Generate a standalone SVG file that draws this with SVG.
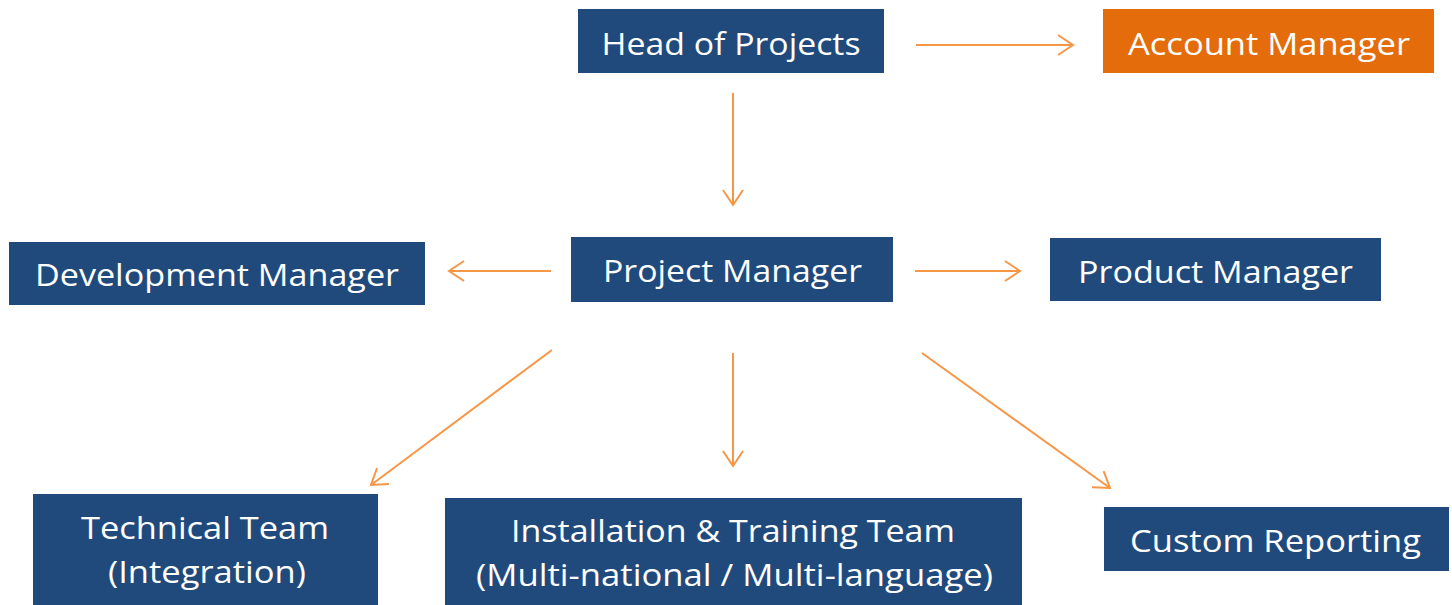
<svg xmlns="http://www.w3.org/2000/svg" width="1452" height="605" viewBox="0 0 1452 605">
  <style>
    .box { fill: #214A7C; }
    .box.accent { fill: #E46C0A; }
    .label { font-family: "Open Sans", "Liberation Sans", sans-serif; font-size: 31.5px; font-weight: 500; fill: #FFFFFF; text-anchor: middle; }
    .edge { stroke: #F79646; stroke-width: 2; fill: none; marker-end: url(#open-arrow); }
  </style>
  <defs>
    <marker id="open-arrow" viewBox="0 0 18 22" refX="16" refY="11" markerWidth="18" markerHeight="22" markerUnits="userSpaceOnUse" orient="auto">
      <path d="M1,1 L16,11 L1,21" fill="none" stroke="#F79646" stroke-width="2"/>
    </marker>
  </defs>

  <rect width="1452" height="605" fill="#FFFFFF"/>

  <g id="connectors">
    <line class="edge" x1="916" y1="45" x2="1073" y2="45"/>
    <line class="edge" x1="733" y1="93" x2="733" y2="205"/>
    <line class="edge" x1="551" y1="271" x2="449" y2="271"/>
    <line class="edge" x1="915" y1="271" x2="1020" y2="271"/>
    <line class="edge" x1="552" y1="350" x2="371" y2="485"/>
    <line class="edge" x1="733" y1="353" x2="733" y2="466"/>
    <line class="edge" x1="922" y1="353" x2="1110" y2="488"/>
  </g>

  <g id="head-of-projects">
    <rect class="box" x="578" y="9" width="306" height="64"/>
    <text class="label" x="731" y="55" textLength="259" lengthAdjust="spacingAndGlyphs">Head of Projects</text>
  </g>

  <g id="account-manager">
    <rect class="box accent" x="1103" y="9" width="331" height="64"/>
    <text class="label" x="1269" y="55" textLength="282" lengthAdjust="spacingAndGlyphs">Account Manager</text>
  </g>

  <g id="project-manager">
    <rect class="box" x="571" y="237" width="322" height="65"/>
    <text class="label" x="732.5" y="282" textLength="259" lengthAdjust="spacingAndGlyphs">Project Manager</text>
  </g>

  <g id="development-manager">
    <rect class="box" x="9" y="242" width="416" height="63"/>
    <text class="label" x="217" y="286" textLength="364" lengthAdjust="spacingAndGlyphs">Development Manager</text>
  </g>

  <g id="product-manager">
    <rect class="box" x="1050" y="238" width="331" height="63"/>
    <text class="label" x="1215.5" y="283" textLength="275" lengthAdjust="spacingAndGlyphs">Product Manager</text>
  </g>

  <g id="technical-team">
    <rect class="box" x="33" y="494" width="345" height="111"/>
    <text class="label" x="205" y="539" textLength="248" lengthAdjust="spacingAndGlyphs">Technical Team</text>
    <text class="label" x="207" y="583" textLength="198" lengthAdjust="spacingAndGlyphs">(Integration)</text>
  </g>

  <g id="installation-training-team">
    <rect class="box" x="445" y="498" width="577" height="107"/>
    <text class="label" x="733" y="542" textLength="444" lengthAdjust="spacingAndGlyphs">Installation &amp; Training Team</text>
    <text class="label" x="734.5" y="586" textLength="517" lengthAdjust="spacingAndGlyphs">(Multi-national / Multi-language)</text>
  </g>

  <g id="custom-reporting">
    <rect class="box" x="1104" y="507" width="345" height="64"/>
    <text class="label" x="1275.5" y="552" textLength="291" lengthAdjust="spacingAndGlyphs">Custom Reporting</text>
  </g>
</svg>
